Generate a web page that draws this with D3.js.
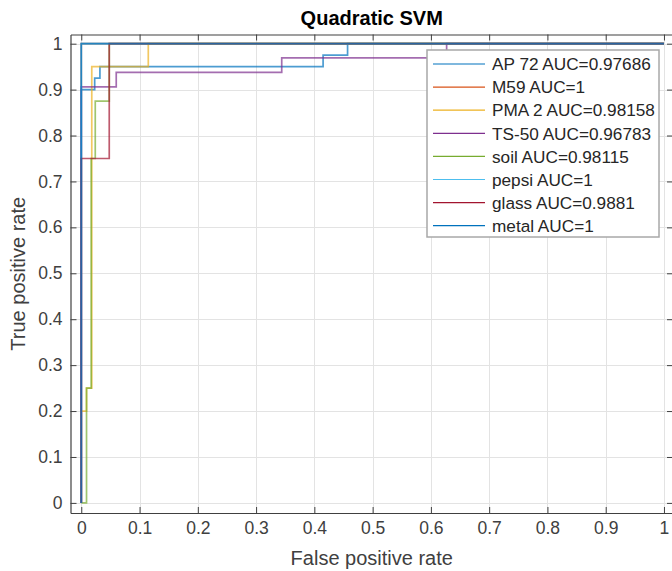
<!DOCTYPE html>
<html>
<head>
<meta charset="utf-8">
<script src="https://cdn.jsdelivr.net/npm/d3@7"></script>
<style>
  body { margin: 0; background: #fff; }
  svg { display: block; font-family: "Liberation Sans", Arial, sans-serif; }
</style>
</head>
<body>
<svg id="chart" width="672" height="571"></svg>
<script>
// class names + AUC as printed in the legend
const classNames = ["AP 72", "M59", "PMA 2", "TS-50", "soil", "pepsi", "glass", "metal"];
const aucLabels = ["0.97686", "1", "0.98158", "0.96783", "0.98115", "1", "0.9881", "1"];
const lineColors = ["#0072BD", "#D95319", "#EDB120", "#7E2F8E", "#77AC30", "#4DBEEE", "#A2142F", "#0072BD"];

// ROC points (false positive rate, true positive rate)
const fprAP72 = [0, 0, 0.023, 0.023, 0.032, 0.032, 0.415, 0.415, 0.457, 0.457, 1];
const tprAP72 = [0, 0.9, 0.9, 0.925, 0.925, 0.95, 0.95, 0.975, 0.975, 1, 1];
const fprM59 = [0, 0, 1];
const tprM59 = [0, 1, 1];
const fprPMA2 = [0, 0, 0.009, 0.009, 0.018, 0.018, 0.115, 0.115, 1];
const tprPMA2 = [0, 0.2, 0.2, 0.25, 0.25, 0.95, 0.95, 1, 1];
const fprTS50 = [0, 0, 0.06, 0.06, 0.344, 0.344, 0.627, 0.627, 1];
const tprTS50 = [0, 0.906, 0.906, 0.9375, 0.9375, 0.969, 0.969, 1, 1];
const fprSoil = [0, 0.009, 0.009, 0.017, 0.017, 0.024, 0.024, 0.048, 0.048, 1];
const tprSoil = [0, 0, 0.25, 0.25, 0.75, 0.75, 0.875, 0.875, 1, 1];
const fprPepsi = [0, 0, 1];
const tprPepsi = [0, 1, 1];
const fprGlass = [0, 0, 0.048, 0.048, 1];
const tprGlass = [0, 0.75, 0.75, 1, 1];
const fprMetal = [0, 0, 1];
const tprMetal = [0, 1, 1];

const tickValues = [0, 0.1, 0.2, 0.3, 0.4, 0.5, 0.6, 0.7, 0.8, 0.9, 1];

const fprs = [fprAP72, fprM59, fprPMA2, fprTS50, fprSoil, fprPepsi, fprGlass, fprMetal];
const tprs = [tprAP72, tprM59, tprPMA2, tprTS50, tprSoil, tprPepsi, tprGlass, tprMetal];

const curves = classNames.map((name, i) => ({
    name: name,
    label: name + " AUC=" + aucLabels[i],
    color: lineColors[i],
    points: fprs[i].map((f, j) => [f, tprs[i][j]])
}));

const svg = d3.select("#chart");

// axes box (matlab pads the limits a little)
const box = { left: 70.5, top: 34.5, right: 673, bottom: 513 };

const x = d3.scaleLinear().domain([-0.0185, 1.0155]).range([box.left, box.right]);
const y = d3.scaleLinear().domain([-0.022, 1.02]).range([box.bottom, box.top]);

// grid
const grid = svg.append("g").attr("stroke", "#e3e3e3").attr("stroke-width", 1);
grid.selectAll(".vg").data(tickValues).enter().append("line")
    .attr("x1", d => Math.round(x(d)) + 0.5).attr("x2", d => Math.round(x(d)) + 0.5)
    .attr("y1", box.top).attr("y2", box.bottom);
grid.selectAll(".hg").data(tickValues).enter().append("line")
    .attr("y1", d => Math.round(y(d)) + 0.5).attr("y2", d => Math.round(y(d)) + 0.5)
    .attr("x1", box.left).attr("x2", box.right);

// curves
const line = d3.line()
    .x(d => x(d[0]))
    .y(d => y(d[1]));

svg.append("g").selectAll("path")
    .data(curves)
    .enter()
    .append("path")
    .attr("d", d => line(d.points))
    .attr("fill", "none")
    .attr("stroke", d => d.color)
    .attr("stroke-width", 1.7)
    .attr("stroke-opacity", 0.7);

// axes, ticks pointing inward like matlab
function styleAxis(g) {
    g.selectAll("path").attr("stroke", "#404040").attr("stroke-width", 1.2);
    g.selectAll("line").attr("stroke", "#404040");
    g.selectAll("text").attr("fill", "#404040").style("font-size", "17.5px").style("font-family", "inherit");
}

svg.append("g")
    .attr("transform", `translate(0,${box.bottom})`)
    .call(d3.axisBottom(x).tickValues(tickValues).tickSizeInner(-6).tickSizeOuter(0).tickPadding(9).tickFormat(d3.format("~g")))
    .call(styleAxis);

svg.append("g")
    .attr("transform", `translate(0,${box.top})`)
    .call(d3.axisTop(x).tickValues(tickValues).tickSizeInner(-6).tickSizeOuter(0).tickFormat(""))
    .call(styleAxis);

svg.append("g")
    .attr("transform", `translate(${box.left},0)`)
    .call(d3.axisLeft(y).tickValues(tickValues).tickSizeInner(-6).tickSizeOuter(0).tickPadding(8).tickFormat(d3.format("~g")))
    .call(styleAxis);

svg.append("g")
    .attr("transform", `translate(${box.right},0)`)
    .call(d3.axisRight(y).tickValues(tickValues).tickSizeInner(-6).tickSizeOuter(0).tickFormat(""))
    .call(styleAxis);

// title + labels
svg.append("text")
    .attr("x", (box.left + box.right) / 2)
    .attr("y", 25)
    .attr("text-anchor", "middle")
    .attr("font-weight", "bold")
    .attr("font-size", 20)
    .attr("fill", "#000")
    .text("Quadratic SVM");

svg.append("text")
    .attr("x", (box.left + box.right) / 2)
    .attr("y", 565)
    .attr("text-anchor", "middle")
    .attr("font-size", 20)
    .attr("fill", "#404040")
    .text("False positive rate");

svg.append("text")
    .attr("transform", `translate(25,${(box.top + box.bottom) / 2}) rotate(-90)`)
    .attr("text-anchor", "middle")
    .attr("font-size", 20)
    .attr("fill", "#404040")
    .text("True positive rate");

// legend
const legend = svg.append("g").attr("transform", "translate(427,50)");
legend.append("rect")
    .attr("width", 232)
    .attr("height", 187)
    .attr("fill", "#fff")
    .attr("stroke", "#a8a8a8")
    .attr("stroke-width", 1.5);

const rows = legend.selectAll(".row")
    .data(curves)
    .enter()
    .append("g")
    .attr("transform", (d, i) => `translate(0,${14 + i * 23.1})`);

rows.append("line")
    .attr("x1", 6).attr("x2", 58)
    .attr("stroke", d => d.color)
    .attr("stroke-width", 1.2);

rows.append("text")
    .attr("x", 65)
    .attr("dy", "0.36em")
    .attr("font-size", 17.2)
    .attr("fill", "#262626")
    .text(d => d.label);
</script>
</body>
</html>
